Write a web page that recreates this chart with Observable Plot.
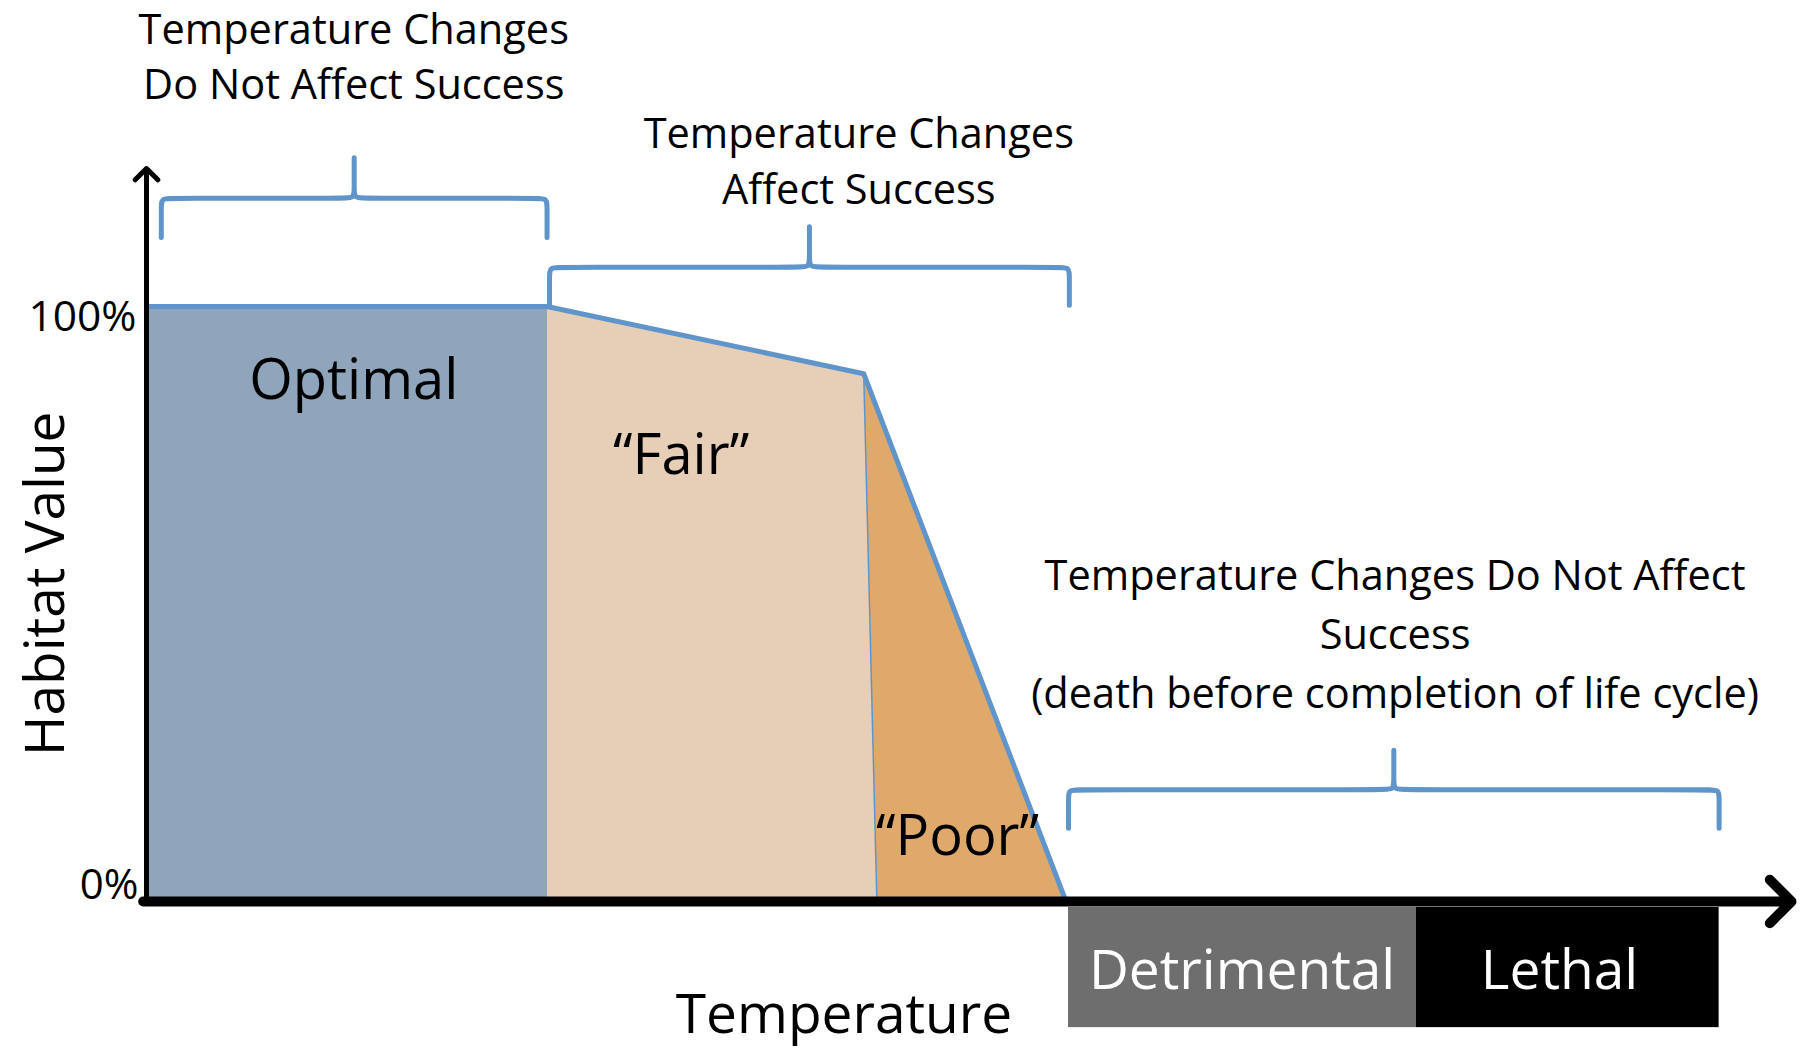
<!DOCTYPE html>
<html>
<head>
<meta charset="utf-8">
<script src="https://cdn.jsdelivr.net/npm/d3@7"></script>
<script src="https://cdn.jsdelivr.net/npm/@observablehq/plot@0.6"></script>
<style>
  html, body { margin: 0; padding: 0; background: #fff; }
  #chart svg { display: block; }
</style>
</head>
<body>
<div id="chart"></div>
<script>
// ---- Data (temperature in arbitrary units 0–100, habitat value in %) ----
const curveT = [0, 24.35, 43.6, 55.9];        // habitat-value curve: temperature
const curveV = [100, 100, 88.7, 0];           // habitat-value curve: value (%)
const poorStartT = 44.4;                      // where the "Poor" zone meets the baseline

const zoneNames = ["Optimal", "\u201CFair\u201D", "\u201CPoor\u201D"];
const zoneColors = ["#8EA5BB", "#E7CEB6", "#DEA96B"];
const zoneLabelT = [12.6, 32.5, 49.3];
const zoneLabelV = [87.4, 74.8, 10.9];

const bracketStart = [0.9, 24.5, 56.05];
const bracketEnd   = [24.35, 56.1, 95.6];
const bracketBar   = [118.2, 106.6, 18.8];
const bracketTip   = [111.6, 100.2, 12.3];
const bracketPeak  = [125.0, 113.4, 25.4];

const noteTexts = [
  "Temperature Changes\nDo Not Affect Success",
  "Temperature Changes\nAffect Success",
  "Temperature Changes Do Not Affect\nSuccess\n(death before completion of life cycle)"
];
const noteT = [12.6, 43.3, 75.9];
const noteV = [142.5, 124.9, 45.6];
const noteLineHeight = [1.34, 1.34, 1.42];

const outcomeNames = ["Detrimental", "Lethal"];
const outcomeStart = [56.05, 77.2];
const outcomeEnd   = [77.2, 95.6];
const outcomeLabelT = [66.6, 85.9];
const outcomeColors = ["#6E6E6E", "#000000"];
const outcomeTop = -1.0, outcomeBottom = -21.2;

const yTicks = [0, 100];
const yTickLabels = ["0%", "100%"];
const yAxisTop = 123.2;

// ---- Derived tables ----
const optimalPoly = [
  {t: curveT[0], v: curveV[0]}, {t: curveT[1], v: curveV[1]},
  {t: curveT[1], v: 0}, {t: curveT[0], v: 0}
];
const fairPoly = [
  {t: curveT[1], v: curveV[1]}, {t: curveT[2], v: curveV[2]},
  {t: poorStartT, v: 0}, {t: curveT[1], v: 0}
];
const poorPoly = [
  {t: curveT[2], v: curveV[2]}, {t: curveT[3], v: curveV[3]},
  {t: poorStartT, v: 0}
];
const curvePts = curveT.map((t, i) => ({t, v: curveV[i]}));

const rx = 0.6, ry = 1.7;
const bracketPts = bracketStart.flatMap((x0, i) => {
  const x1 = bracketEnd[i], xm = (x0 + x1) / 2;
  const bar = bracketBar[i], tip = bracketTip[i], peak = bracketPeak[i];
  return [
    [x0, tip], [x0, bar - ry], [x0, bar], [x0 + rx, bar], [xm - rx, bar], [xm, bar],
    [xm, bar + ry], [xm, peak], [xm, peak], [xm, peak], [xm, bar + ry], [xm, bar],
    [xm + rx, bar], [x1 - rx, bar], [x1, bar], [x1, bar - ry], [x1, tip]
  ].map(([t, v]) => ({t, v, id: i}));
});

const zoneLabels = zoneNames.map((name, i) => ({name, t: zoneLabelT[i], v: zoneLabelV[i]}));
const outcomes = outcomeNames.map((name, i) => ({
  name, t1: outcomeStart[i], t2: outcomeEnd[i], lt: outcomeLabelT[i], fill: outcomeColors[i]
}));

const blue = "#5F95CA";
const font = "Open Sans";

const chart = Plot.plot({
  width: 1800,
  height: 1051,
  margin: 0,
  x: {domain: [0, 100], range: [146, 1791], axis: null},
  y: {domain: [0, 100], range: [901, 306], axis: null},
  style: {fontFamily: font, background: "#fff", color: "#000"},
  marks: [
    // zones
    Plot.line(optimalPoly, {x: "t", y: "v", fill: zoneColors[0], stroke: "none"}),
    Plot.line(fairPoly, {x: "t", y: "v", fill: zoneColors[1], stroke: "none"}),
    Plot.line(poorPoly, {x: "t", y: "v", fill: zoneColors[2], stroke: "none"}),
    Plot.line([fairPoly[1], fairPoly[2]], {x: "t", y: "v", stroke: blue, strokeWidth: 1.5}),
    // habitat curve
    Plot.line(curvePts, {x: "t", y: "v", stroke: blue, strokeWidth: 5, strokeLinejoin: "round"}),
    // brackets
    Plot.line(bracketPts, {x: "t", y: "v", z: "id", curve: "basis", stroke: blue, strokeWidth: 5}),
    // outcome boxes
    Plot.rect(outcomes, {x1: "t1", x2: "t2", y1: outcomeTop, y2: outcomeBottom, fill: "fill"}),
    Plot.text(outcomes, {x: "lt", y: (outcomeTop + outcomeBottom) / 2, text: "name",
      fill: "white", fontSize: 55, dy: 4}),
    // axes
    Plot.arrow([{x1: 0, y1: 0, x2: 0, y2: yAxisTop}], {x1: "x1", y1: "y1", x2: "x2", y2: "y2",
      stroke: "black", strokeWidth: 5, headAngle: 90, headLength: 4.8}),
    Plot.arrow([{x1: -0.2, y1: 0, x2: 100, y2: 0}], {x1: "x1", y1: "y1", x2: "x2", y2: "y2",
      stroke: "black", strokeWidth: 10, headAngle: 90, headLength: 4.6}),
    Plot.text([yTicks[1]], {x: 0, y: d => d, text: [yTickLabels[1]], textAnchor: "end", dx: -10, dy: 11, fontSize: 42.5}),
    Plot.text([yTicks[0]], {x: 0, y: d => d, text: [yTickLabels[0]], textAnchor: "end", dx: -8, dy: -16, fontSize: 42}),
    Plot.text(["Habitat Value"], {x: -6.1, y: 53.4, text: d => d, rotate: -90, fontSize: 55}),
    Plot.text(["Temperature"], {x: 42.4, y: -19.2, text: d => d, fontSize: 55}),
    // labels
    Plot.text(zoneLabels, {x: "t", y: "v", text: "name", fontSize: 56}),
    ...noteTexts.map((text, i) => Plot.text([text], {x: noteT[i], y: noteV[i], text: d => d,
      fontSize: 41.5, lineHeight: noteLineHeight[i]}))
  ]
});
document.getElementById("chart").appendChild(chart);
</script>
</body>
</html>
